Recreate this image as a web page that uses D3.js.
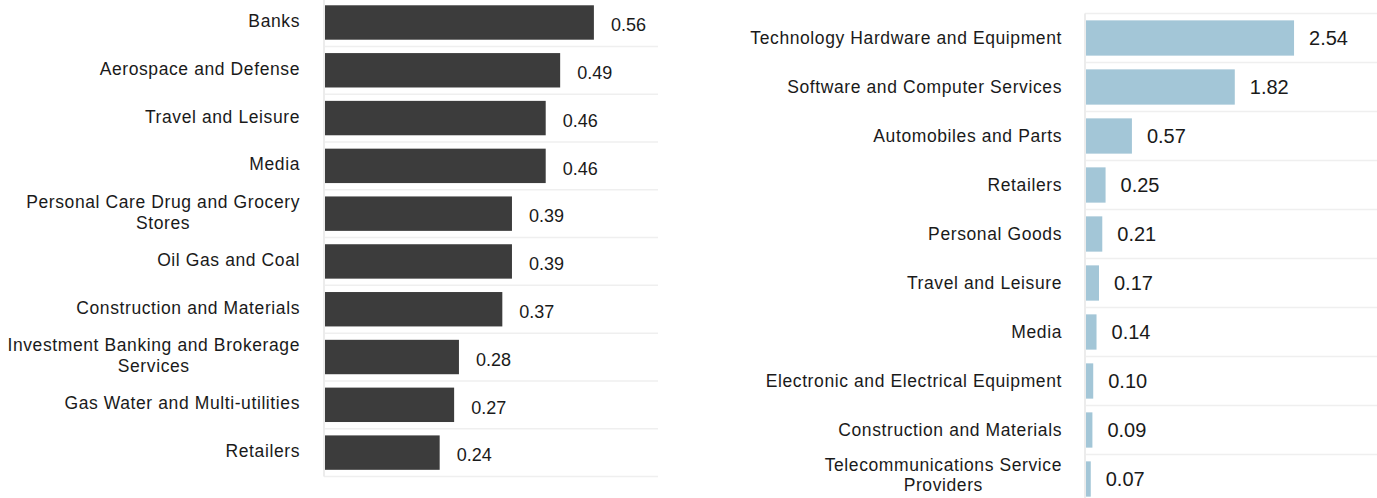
<!DOCTYPE html>
<html>
<head>
<meta charset="utf-8">
<script src="https://cdn.jsdelivr.net/npm/d3@7/dist/d3.min.js"></script>
<style>
  body { margin: 0; background: #fff; }
  svg { display: block; }
  text { font-family: "Liberation Sans", Arial, sans-serif; fill: #1a1a1a; }
</style>
</head>
<body>
<div id="chart"></div>
<script>
/* left panel: top sectors */
const leftCategories = [
    "Banks",
    "Aerospace and Defense",
    "Travel and Leisure",
    "Media",
    "Personal Care Drug and Grocery Stores",
    "Oil Gas and Coal",
    "Construction and Materials",
    "Investment Banking and Brokerage Services",
    "Gas Water and Multi-utilities",
    "Retailers"
];
const leftValues = [0.56, 0.49, 0.46, 0.46, 0.39, 0.39, 0.37, 0.28, 0.27, 0.24];

/* right panel */
const rightCategories = [
    "Technology Hardware and Equipment",
    "Software and Computer Services",
    "Automobiles and Parts",
    "Retailers",
    "Personal Goods",
    "Travel and Leisure",
    "Media",
    "Electronic and Electrical Equipment",
    "Construction and Materials",
    "Telecommunications Service Providers"
];
const rightValues = [2.54, 1.82, 0.57, 0.25, 0.21, 0.17, 0.14, 0.10, 0.09, 0.07];

const W = 1377, H = 498;

const svg = d3.select("#chart")
    .append("svg")
    .attr("width", W)
    .attr("height", H);

/* long names get broken at the last space */
function wrapName(name) {
    if (name.length <= 35) return [name];
    const i = name.lastIndexOf(" ");
    return [name.slice(0, i), name.slice(i + 1)];
}

function drawPanel(cfg) {
    const data = cfg.categories.map((c, i) => ({ name: c, value: cfg.values[i] }));
    const g = svg.append("g");

    const x = d3.scaleLinear()
        .domain([0, cfg.xMax])
        .range([cfg.left, cfg.right]);

    const y = d3.scaleBand()
        .domain(cfg.categories)
        .range([cfg.top, cfg.bottom])
        .paddingInner(0.28)
        .paddingOuter(0.14);

    const step = y.step();
    const bounds = d3.range(cfg.categories.length + 1).map(i => cfg.top + i * step);

    /* horizontal separators */
    g.append("g")
        .selectAll("line")
        .data(bounds)
        .join("line")
        .attr("x1", cfg.left)
        .attr("x2", cfg.right)
        .attr("y1", d => d)
        .attr("y2", d => d)
        .attr("stroke", "#efefef")
        .attr("stroke-width", 1.5);

    /* axis line */
    g.append("line")
        .attr("x1", cfg.left)
        .attr("x2", cfg.left)
        .attr("y1", cfg.top)
        .attr("y2", cfg.bottom)
        .attr("stroke", "#ececec")
        .attr("stroke-width", 2);

    g.append("g")
        .selectAll("rect")
        .data(data)
        .join("rect")
        .attr("x", x(0) + 1)
        .attr("y", d => y(d.name))
        .attr("width", d => x(d.value) - x(0) - 1)
        .attr("height", y.bandwidth())
        .attr("fill", cfg.color);

    /* value labels */
    g.append("g")
        .selectAll("text")
        .data(data)
        .join("text")
        .attr("x", d => x(d.value) + cfg.valueGap)
        .attr("y", d => y(d.name) + y.bandwidth() / 2 + cfg.valueShift)
        .attr("dy", "0.35em")
        .style("font-size", cfg.valueSize + "px")
        .text(d => d.value.toFixed(2));

    /* category labels */
    const labels = g.append("g")
        .selectAll("text")
        .data(data)
        .join("text")
        .style("font-size", cfg.labelSize + "px")
        .style("letter-spacing", cfg.labelSpacing + "px");

    labels.each(function(d) {
        const t = d3.select(this);
        const lines = wrapName(d.name);
        const cy = y(d.name) + y.bandwidth() / 2 + cfg.labelShift;
        const ax = cfg.left - cfg.labelGap;
        if (lines.length === 1) {
            t.attr("x", ax).attr("y", cy).attr("dy", "0.35em")
                .attr("text-anchor", "end").text(lines[0]);
        } else {
            /* block is right aligned, lines centred inside it */
            const first = t.append("tspan").text(lines[0]);
            const w = this.getComputedTextLength();
            const mid = ax - w / 2;
            // keep the second line inside the picture
            const top = Math.min(cy - cfg.lineGap / 2, H - 13 - cfg.lineGap);
            t.attr("text-anchor", "middle");
            first.attr("x", mid).attr("y", top).attr("dy", "0.35em");
            t.append("tspan").text(lines[1])
                .attr("x", mid).attr("y", top + cfg.lineGap).attr("dy", "0.35em");
        }
    });
}

drawPanel({
    categories: leftCategories,
    values: leftValues,
    color: "#3c3c3c",
    left: 324,
    right: 658,
    xMax: 0.693,
    top: -1.4,
    bottom: 476.5,
    valueGap: 17,
    valueShift: 2.5,
    valueSize: 18,
    labelSize: 17.5,
    labelSpacing: 0.6,
    labelGap: 24,
    labelShift: -1.5,
    lineGap: 21
});

drawPanel({
    categories: rightCategories,
    values: rightValues,
    color: "#a3c6d7",
    left: 1085,
    right: 1377,
    xMax: 3.548,
    top: 13.5,
    bottom: 503.5,
    valueGap: 15,
    valueShift: 0,
    valueSize: 20,
    labelSize: 17.5,
    labelSpacing: 0.6,
    labelGap: 23,
    labelShift: 0,
    lineGap: 20
});
</script>
</body>
</html>
